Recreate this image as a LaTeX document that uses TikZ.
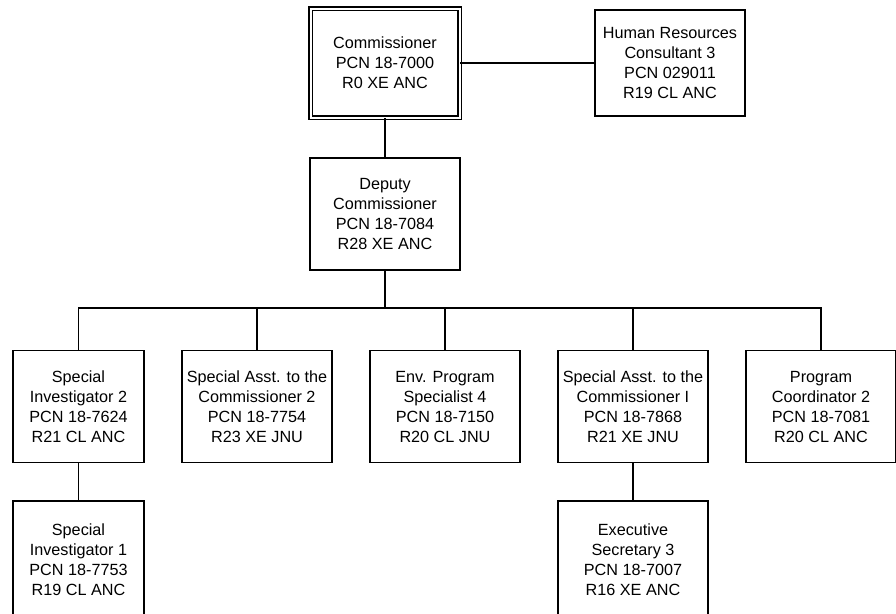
\documentclass[tikz,border=0pt]{standalone}
\usepackage{fontspec}
\setmainfont{Liberation Sans}
\begin{document}
\begin{tikzpicture}[x=1pt,y=-1pt,
  box/.style={draw,line width=1.4pt,rectangle,inner sep=0pt,align=center,
    minimum width=150pt,minimum height=112pt,font=\fontsize{16.2}{20}\selectfont},
  narrow/.style={minimum width=131pt},
  tall/.style={minimum height=118pt},
  dbl/.style={double=white,double distance=2pt,line width=1.1pt,minimum width=149pt,minimum height=109pt},
  conn/.style={line width=1.4pt}]
\useasboundingbox (0,0) rectangle (896,613);
\node[box,dbl] (com) at (385,63) {Commissioner\\PCN 18-7000\\R0 XE ANC};
\node[box] (hr) at (670,63) [minimum height=106pt] {Human Resources\\Consultant 3\\PCN 029011\\R19 CL ANC};
\node[box] (dep) at (385,214) {Deputy\\Commissioner\\PCN 18-7084\\R28 XE ANC};
\node[box,narrow] (si2) at (78.5,406.5) {Special\\Investigator 2\\PCN 18-7624\\R21 CL ANC};
\node[box] (sa2) at (257,406.5) {Special Asst. to the\\Commissioner 2\\PCN 18-7754\\R23 XE JNU};
\node[box] (env) at (445,406.5) {Env. Program\\Specialist 4\\PCN 18-7150\\R20 CL JNU};
\node[box] (sa1) at (633,406.5) {Special Asst. to the\\Commissioner I\\PCN 18-7868\\R21 XE JNU};
\node[box] (pc2) at (821,406.5) {Program\\Coordinator 2\\PCN 18-7081\\R20 CL ANC};
\node[box,narrow,tall] (si1) at (78.5,560) {Special\\Investigator 1\\PCN 18-7753\\R19 CL ANC};
\node[box,tall] (es3) at (633,560) {Executive\\Secretary 3\\PCN 18-7007\\R16 XE ANC};
\coordinate (bus) at (385,308);
\draw[conn] (com.east) -- (hr.west);
\draw[conn] (com.south) -- (dep.north);
\draw[conn] (dep.south) -- (bus);
\foreach \c in {si2,sa2,env,sa1,pc2} \draw[conn] (bus) -| (\c.north);
\draw[conn] (si2.south) -- (si1.north);
\draw[conn] (sa1.south) -- (es3.north);
\end{tikzpicture}
\end{document}
